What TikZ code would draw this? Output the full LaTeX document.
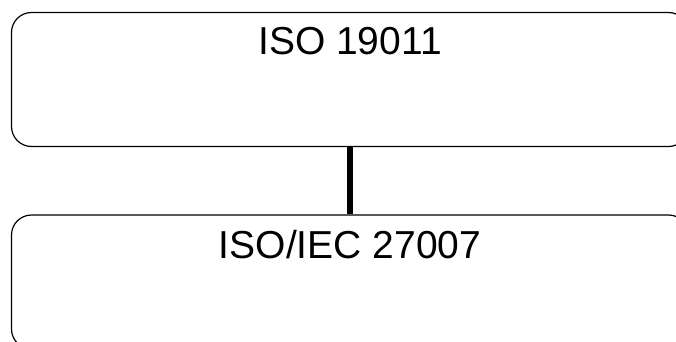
\documentclass[tikz,border=0pt]{standalone}
\usepackage{fontspec}
\setmainfont{Liberation Sans}
\usetikzlibrary{positioning}

\begin{document}
\begin{tikzpicture}[
    x=1pt, y=1pt,
    stdbox/.style={draw, line width=1.2pt, rounded corners=20pt, minimum width=677pt, minimum height=134pt, inner sep=0pt},
    title/.style={inner sep=0pt, font=\fontsize{39}{46}\selectfont},
    link/.style={draw, line width=6pt}
]

% Fix the picture size
\useasboundingbox (0,0) rectangle (676,-342);

% Define the two standard boxes
\node[stdbox] (iso) at (350, -79.5) {};
\node[stdbox] (isoiec) at (350, -282) {};

% Add titles near the top of each box
\node[title, below=15.5pt of iso.north] (isotitle) {ISO 19011};
\node[title, below=15.5pt of isoiec.north] (isoiectitle) {ISO/IEC 27007};

% Draw the link between the boxes
\draw[link] (iso.south) -- (isoiec.north);

\end{tikzpicture}
\end{document}
